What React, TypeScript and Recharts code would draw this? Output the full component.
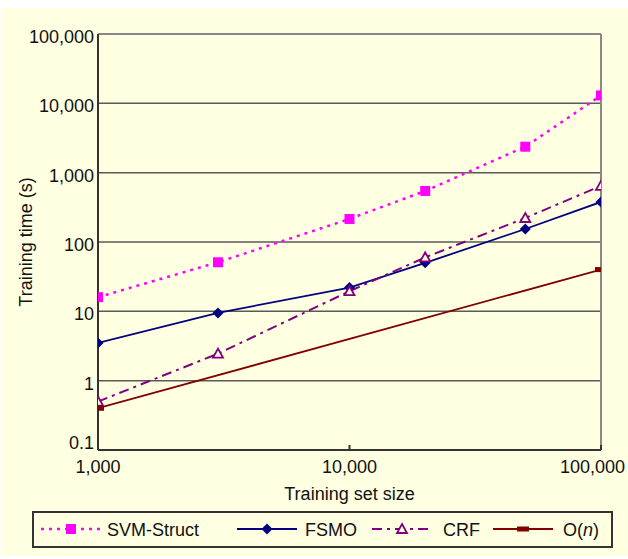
import { LineChart, Line, XAxis, YAxis, CartesianGrid, ReferenceLine } from "recharts";

const BG = "#FFFFE1";
const FONT = "'Liberation Sans', Arial, sans-serif";
const TEXT = "#111";

const SIZES = [1000, 3000, 10000, 20000, 50000, 100000];
const SVM_STRUCT = [16, 51, 215, 545, 2370, 13000];
const FSMO = [3.5, 9.5, 22, 50, 154, 378];
const CRF = [0.5, 2.45, 19.5, 60, 222, 645];
const LINEAR_SIZES = [1000, 100000];
const LINEAR = [0.4, 40];

const X_TICKS = [1000, 10000, 100000];
const Y_TICKS = [0.1, 1, 10, 100, 1000, 10000, 100000];

const toPoints = (xs: number[], ys: number[]) => xs.map((x, i) => ({ x, y: ys[i] }));
const fmt = (v: number) => v.toLocaleString("en-US");

const W = 627;
const H = 548;

// marker shapes, shared by the lines and the legend
const square = (cx: number, cy: number, key?: any) => (
  <rect key={key} x={cx - 5} y={cy - 5} width={10} height={10} fill="#FF00FF" />
);
const diamond = (cx: number, cy: number, key?: any) => (
  <polygon
    key={key}
    points={`${cx},${cy - 5.5} ${cx + 5.5},${cy} ${cx},${cy + 5.5} ${cx - 5.5},${cy}`}
    fill="#000080"
  />
);
const triangle = (cx: number, cy: number, key?: any) => (
  <polygon
    key={key}
    points={`${cx},${cy - 5} ${cx + 5},${cy + 4} ${cx - 5},${cy + 4}`}
    fill={BG}
    stroke="#800080"
    strokeWidth={1.8}
  />
);
const dash = (cx: number, cy: number, key?: any) => (
  <rect key={key} x={cx - 6} y={cy - 2.5} width={12} height={5} fill="#800000" />
);

const SERIES = [
  { name: "SVM-Struct", xs: SIZES, ys: SVM_STRUCT, color: "#FF00FF", width: 2.5, dashes: "3 5", marker: square },
  { name: "FSMO", xs: SIZES, ys: FSMO, color: "#000080", width: 1.8, dashes: undefined, marker: diamond },
  { name: "CRF", xs: SIZES, ys: CRF, color: "#800080", width: 2, dashes: "10 5 3 5", marker: triangle },
  { name: "O(n)", xs: LINEAR_SIZES, ys: LINEAR, color: "#800000", width: 1.8, dashes: undefined, marker: dash },
];

function XTick(props: any) {
  const { x, y, payload } = props;
  const label = fmt(payload.value);
  const half = label.length * 4.7;
  const overflow = x + half > W - 3;
  return (
    <g>
      <line x1={x} x2={x} y1={y} y2={y - 5} stroke="#333" strokeWidth={2} />
      <text
        x={overflow ? W - 3 : x}
        y={y + 23}
        textAnchor={overflow ? "end" : "middle"}
        fontSize={18}
        fill={TEXT}
      >
        {label}
      </text>
    </g>
  );
}

function YTick(props: any) {
  const { x, y, payload } = props;
  const low = payload.value === Y_TICKS[0];
  return (
    <text x={x} y={low ? y - 1 : y + 9} textAnchor="end" fontSize={18} fill={TEXT}>
      {fmt(payload.value)}
    </text>
  );
}

function YTitle(props: any) {
  const vb = props.viewBox;
  const cx = 25;
  const cy = vb.y + vb.height / 2;
  return (
    <text
      x={cx}
      y={cy}
      transform={`rotate(-90, ${cx}, ${cy})`}
      textAnchor="middle"
      dominantBaseline="central"
      fontSize={18}
      fill={TEXT}
    >
      Training time (s)
    </text>
  );
}

const LEGEND_SAMPLE_X = [9, 205, 340, 461];
const LEGEND_TEXT_X = [75, 273, 411, 531];

function ChartLegend() {
  return (
    <svg
      width={581}
      height={37}
      style={{ position: "absolute", left: 31, top: 503 }}
    >
      <rect x={1} y={1} width={579} height={35} fill={BG} stroke="#333" strokeWidth={2} />
      {SERIES.map((s, i) => {
        const sx = LEGEND_SAMPLE_X[i];
        return (
          <g key={s.name}>
            <line
              x1={sx}
              x2={sx + 60}
              y1={18}
              y2={18}
              stroke={s.color}
              strokeWidth={s.width}
              strokeDasharray={s.dashes}
            />
            {s.marker(sx + 30, 18)}
            <text x={LEGEND_TEXT_X[i]} y={24.5} fontSize={18} fill={TEXT}>
              {s.name === "O(n)" ? (
                <>
                  O(<tspan fontStyle="italic">n</tspan>)
                </>
              ) : (
                s.name
              )}
            </text>
          </g>
        );
      })}
    </svg>
  );
}

export default function App() {
  return (
    <div
      style={{
        position: "absolute",
        left: 1,
        top: 8,
        width: W,
        height: H,
        background: BG,
        fontFamily: FONT,
      }}
    >
      <LineChart width={W} height={H} margin={{ top: 26, right: 27, bottom: 46, left: 0 }}>
        <CartesianGrid vertical={false} stroke="#5a5a5a" strokeWidth={1.5} />
        <XAxis
          type="number"
          dataKey="x"
          scale="log"
          domain={[1000, 100000]}
          ticks={X_TICKS}
          allowDataOverflow
          height={60}
          tickSize={0}
          tickMargin={0}
          tick={(p: any) => <XTick {...p} />}
          axisLine={{ stroke: "#333", strokeWidth: 2 }}
          label={{
            value: "Training set size",
            position: "insideBottom",
            offset: 10.5,
            fontSize: 18,
            fill: TEXT,
          }}
        />
        <YAxis
          type="number"
          dataKey="y"
          scale="log"
          domain={[0.1, 100000]}
          ticks={Y_TICKS}
          allowDataOverflow
          width={97}
          tickSize={0}
          tickMargin={4}
          tick={(p: any) => <YTick {...p} />}
          axisLine={{ stroke: "#333", strokeWidth: 2 }}
          label={{ content: (p: any) => <YTitle {...p} /> }}
        />
        <ReferenceLine x={100000} stroke="#888" strokeWidth={2} />
        <ReferenceLine y={100000} stroke="#888" strokeWidth={2} />
        {SERIES.map((s) => (
          <Line
            key={s.name}
            name={s.name}
            data={toPoints(s.xs, s.ys)}
            dataKey="y"
            stroke={s.color}
            strokeWidth={s.width}
            strokeDasharray={s.dashes}
            dot={(p: any) => s.marker(p.cx, p.cy, p.index)}
            activeDot={false}
            isAnimationActive={false}
          />
        ))}
      </LineChart>
      <ChartLegend />
    </div>
  );
}
